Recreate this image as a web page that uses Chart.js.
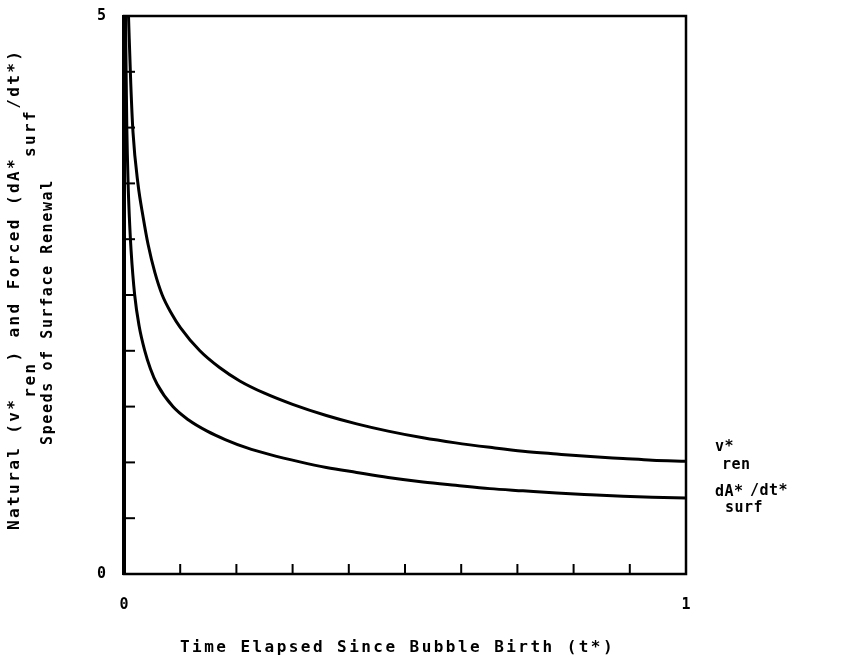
<!DOCTYPE html>
<html lang="en">
<head>
  <meta charset="UTF-8">
  <title>Speeds of Surface Renewal</title>
  <script src="https://cdn.jsdelivr.net/npm/chart.js"></script>
  <style>
    body { margin: 0; background: #fff; }
    canvas { display: block; }
  </style>
</head>
<body>
  <canvas id="renewalChart" width="853" height="661"></canvas>

  <script>
    // Natural speed of surface renewal, v*ren (upper curve)
    const tRen = [0.008, 0.012, 0.016, 0.025, 0.034, 0.043, 0.055, 0.068, 0.085, 0.100, 0.135, 0.170, 0.206, 0.250, 0.300, 0.360, 0.414, 0.470, 0.532, 0.590, 0.651, 0.710, 0.770, 0.830, 0.888, 0.940, 1.000];
    const vRen = [5.00, 4.40, 3.96, 3.49, 3.20, 2.95, 2.70, 2.50, 2.33, 2.21, 2.00, 1.85, 1.73, 1.62, 1.52, 1.42, 1.345, 1.28, 1.22, 1.175, 1.135, 1.10, 1.075, 1.052, 1.035, 1.02, 1.01];

    // Forced speed, dA*surf/dt* (lower curve)
    const tSurf = [0.0026, 0.004, 0.005, 0.0073, 0.0095, 0.0126, 0.019, 0.027, 0.037, 0.047, 0.059, 0.087, 0.115, 0.148, 0.180, 0.219, 0.260, 0.313, 0.360, 0.414, 0.470, 0.532, 0.590, 0.651, 0.710, 0.770, 0.830, 0.888, 0.940, 1.000];
    const vSurf = [5.00, 4.40, 4.00, 3.50, 3.20, 2.90, 2.50, 2.22, 2.00, 1.84, 1.70, 1.50, 1.38, 1.28, 1.205, 1.13, 1.07, 1.005, 0.955, 0.91, 0.865, 0.825, 0.795, 0.765, 0.745, 0.725, 0.71, 0.697, 0.688, 0.68];

    // only the end ticks get a label
    const yTickLabels = [0, 5];
    const xTickLabels = [0, 1];

    const FONT = 'DejaVu Sans Mono';

    function toPoints(xs, ys) {
      return xs.map((x, i) => ({ x: x, y: ys[i] }));
    }

    // draw text piece by piece, returns the new x position
    function piece(ctx, str, x, y, size, spacing) {
      ctx.font = 'bold ' + size + 'px "' + FONT + '"';
      ctx.letterSpacing = spacing + 'px';
      ctx.fillText(str, x, y);
      return x + ctx.measureText(str).width;
    }

    function line(ctx, x1, y1, x2, y2) {
      ctx.beginPath();
      ctx.moveTo(x1, y1);
      ctx.lineTo(x2, y2);
      ctx.stroke();
    }

    // frame, inward ticks, axis titles and curve labels
    const framePlugin = {
      id: 'frame',
      afterDraw(chart) {
        const { ctx, chartArea: a, scales } = chart;
        const xs = scales.x, ys = scales.y;
        ctx.save();
        ctx.strokeStyle = '#000';
        ctx.fillStyle = '#000';

        ctx.lineWidth = 2;
        ys.ticks.forEach(t => {
          const py = ys.getPixelForValue(t.value);
          line(ctx, a.left, py, a.left + 11, py);
        });
        xs.ticks.forEach(t => {
          const px = xs.getPixelForValue(t.value);
          line(ctx, px, a.bottom, px, a.bottom - 10);
        });

        ctx.lineWidth = 2.5;
        ctx.strokeRect(a.left, a.top, a.right - a.left, a.bottom - a.top);
        ctx.lineWidth = 4;
        line(ctx, a.left, a.top - 1, a.left, a.bottom + 1);

        ctx.textBaseline = 'middle';
        ctx.textAlign = 'left';

        // x axis title
        piece(ctx, 'Time Elapsed Since Bubble Birth (t*)', 180, 648, 16, 2.45);

        // curve labels on the right
        piece(ctx, 'v*', 715, 447, 15, 0.5);
        piece(ctx, 'ren', 722, 465, 15, 0.5);
        piece(ctx, 'dA*', 715, 492, 15, 0.5);
        piece(ctx, 'surf', 725, 508, 15, 0.5);
        piece(ctx, '/dt*', 750, 491, 15, 0.5);

        // rotated y axis title: x' = -pageY, y' = pageX
        ctx.rotate(-Math.PI / 2);
        let p = piece(ctx, 'Natural (v*', -530, 15, 16, 2.4);
        p = piece(ctx, 'ren', p, 31, 16, 2.4);
        p = piece(ctx, ') and Forced (dA*', p, 15, 16, 2.4);
        p = piece(ctx, 'surf', p, 31, 16, 2.4);
        piece(ctx, '/dt*)', p, 15, 16, 2.4);
        piece(ctx, 'Speeds of Surface Renewal', -445, 48, 15, 1.6);

        ctx.restore();
      }
    };

    const ctx = document.getElementById('renewalChart').getContext('2d');
    const renewalChart = new Chart(ctx, {
      type: 'line',
      data: {
        datasets: [
          {
            label: 'v*ren',
            data: toPoints(tRen, vRen),
            borderColor: '#000',
            borderWidth: 3,
            pointRadius: 0,
            cubicInterpolationMode: 'monotone'
          },
          {
            label: 'dA*surf/dt*',
            data: toPoints(tSurf, vSurf),
            borderColor: '#000',
            borderWidth: 3,
            pointRadius: 0,
            cubicInterpolationMode: 'monotone'
          }
        ]
      },
      options: {
        responsive: false,
        animation: false,
        layout: { padding: { left: 0, right: 167, top: 11, bottom: 0 } },
        plugins: {
          legend: { display: false },
          tooltip: { enabled: false }
        },
        scales: {
          x: {
            type: 'linear',
            min: 0,
            max: 1,
            grid: { display: false },
            border: { display: false },
            afterFit: s => { s.height = 87; },
            ticks: {
              stepSize: 0.1,
              autoSkip: false,
              maxRotation: 0,
              padding: 14,
              color: '#000',
              font: { family: FONT, weight: 'bold', size: 15 },
              callback: v => xTickLabels.some(l => Math.abs(l - v) < 1e-9) ? String(Math.round(v)) : ''
            }
          },
          y: {
            min: 0,
            max: 5,
            grid: { display: false },
            border: { display: false },
            afterFit: s => { s.width = 124; },
            ticks: {
              stepSize: 0.5,
              autoSkip: false,
              padding: 10,
              color: '#000',
              font: { family: FONT, weight: 'bold', size: 15, lineHeight: 0.8 },
              callback: v => yTickLabels.some(l => Math.abs(l - v) < 1e-9) ? String(Math.round(v)) : ''
            }
          }
        }
      },
      plugins: [framePlugin]
    });
  </script>
</body>
</html>
